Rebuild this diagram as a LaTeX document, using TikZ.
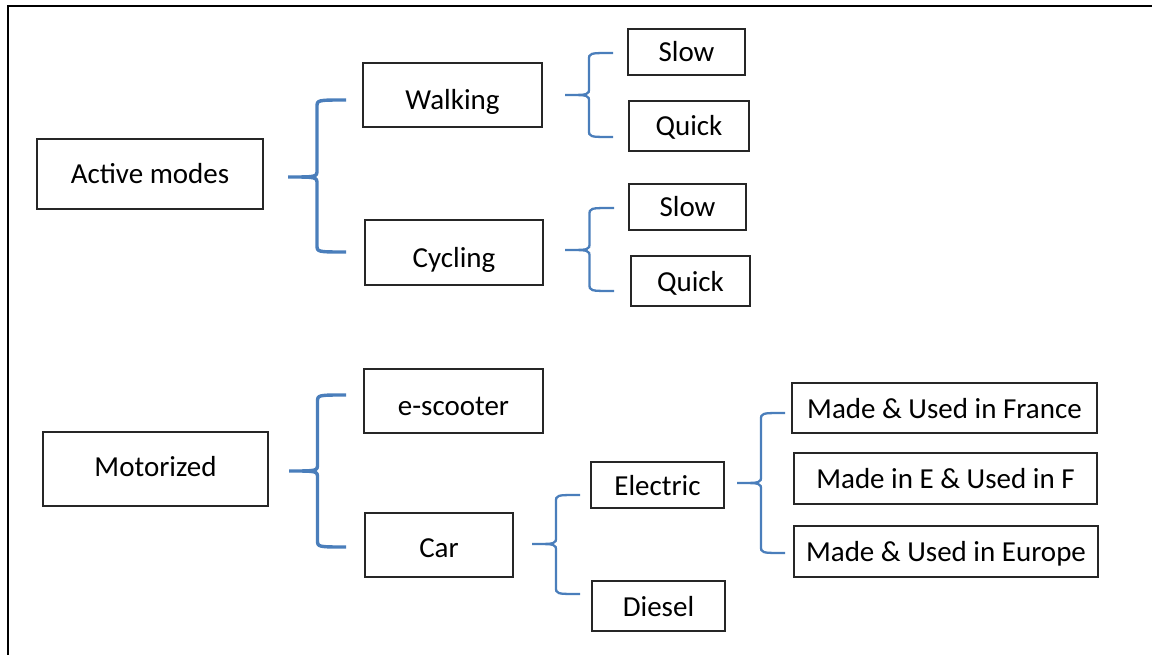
\documentclass[tikz,border=0pt]{standalone}
\usepackage{fontspec}
\setmainfont{Carlito}
\usetikzlibrary{calc}
\definecolor{braceblue}{RGB}{74,126,187}
\newcommand{\curly}[4]{\draw[#1] let \p1=(#2), \p2=(#3), \p3=(#4), \p4=($(#2)!.5!(#3)$) in
		(\p2) .. controls (\x4,\y2) .. (\x4,\y2-7pt) -- (\x4,\y1+7pt) .. controls (\x4,\y1) .. (\p1)
		.. controls (\x4,\y1) .. (\x4,\y1-7pt) -- (\x4,\y3+7pt) .. controls (\x4,\y3) .. (\p3);}
\begin{document}
\begin{tikzpicture}[x=1pt,y=-1pt,
		box/.style={draw=black!85,line width=1.2pt,fill=white,inner sep=0pt,
			text height=20pt,text depth=0pt,font=\fontsize{29}{34}\selectfont},
		bigbrace/.style={draw=braceblue,line width=3.4pt},
		smallbrace/.style={draw=braceblue,line width=2.3pt}]
		\useasboundingbox (0,0) rectangle (1152,655);
		\draw[line width=2pt] (8,655) -- (8,6) -- (1152,6);
		\node[box,minimum width=226pt,minimum height=70pt] (act) at (150,174) {Active modes};
		\node[box,minimum width=179pt,minimum height=64pt] (walk) at (452.5,95) {\raisebox{-5pt}{Walking}};
		\node[box,minimum width=178pt,minimum height=65pt] (cyc) at (454,252.5) {\raisebox{-5pt}{Cycling}};
		\node[box,minimum width=117pt,minimum height=46pt] (ws) at (686.5,52) {Slow};
		\node[box,minimum width=120pt,minimum height=50pt] (wq) at (689,126) {Quick};
		\node[box,minimum width=117pt,minimum height=46pt] (cs) at (687.5,207) {Slow};
		\node[box,minimum width=119pt,minimum height=50pt] (cq) at (690.5,281) {Quick};
		\node[box,minimum width=225pt,minimum height=74pt] (mot) at (155.5,469) {\raisebox{3pt}{Motorized}};
		\node[box,minimum width=179pt,minimum height=64pt] (scoot) at (453.5,401) {\raisebox{-4pt}{e-scooter}};
		\node[box,minimum width=148pt,minimum height=64pt] (car) at (439,545) {\raisebox{-2pt}{Car}};
		\node[box,minimum width=133pt,minimum height=46pt] (elec) at (657.5,485) {Electric};
		\node[box,minimum width=133pt,minimum height=50pt] (dies) at (658.5,606) {Diesel};
		\node[box,minimum width=305pt,minimum height=50pt] (fr) at (944.5,408) {Made \& Used in France};
		\node[box,minimum width=303pt,minimum height=51pt] (ef) at (945.5,478.5) {Made in E \& Used in F};
		\node[box,minimum width=304pt,minimum height=51pt] (eu) at (946,551.5) {Made \& Used in Europe};
		\coordinate (act0) at (288,177); \coordinate (act1) at (346,100); \coordinate (act2) at (346,252);
		\coordinate (walk0) at (565,95); \coordinate (walk1) at (613,53); \coordinate (walk2) at (613,137);
		\coordinate (cyc0) at (565,250); \coordinate (cyc1) at (614,208); \coordinate (cyc2) at (614,291);
		\coordinate (mot0) at (289,471); \coordinate (mot1) at (346,395); \coordinate (mot2) at (346,547);
		\coordinate (car0) at (532,544); \coordinate (car1) at (580,495); \coordinate (car2) at (580,594);
		\coordinate (elec0) at (737,483); \coordinate (elec1) at (785,413); \coordinate (elec2) at (785,553);
		\curly{bigbrace}{act0}{act1}{act2}
		\curly{bigbrace}{mot0}{mot1}{mot2}
		\curly{smallbrace}{walk0}{walk1}{walk2}
		\curly{smallbrace}{cyc0}{cyc1}{cyc2}
		\curly{smallbrace}{car0}{car1}{car2}
		\curly{smallbrace}{elec0}{elec1}{elec2}
\end{tikzpicture}
\end{document}
